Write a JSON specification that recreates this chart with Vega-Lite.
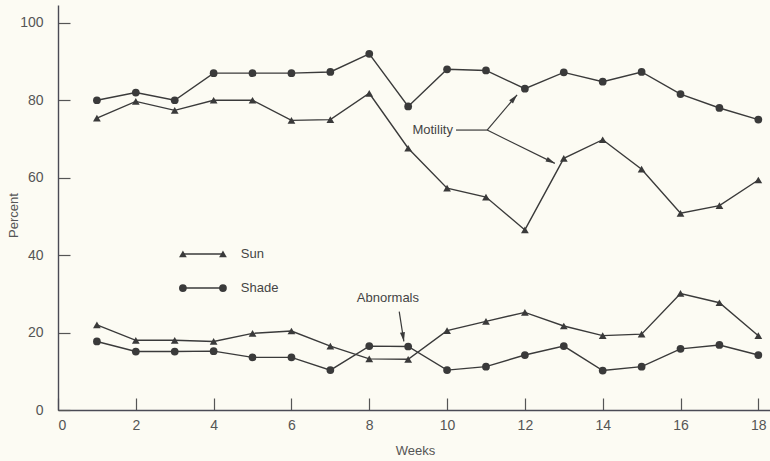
{
  "$schema": "https://vega.github.io/schema/vega-lite/v6.json",
  "width": 712,
  "height": 405,
  "autosize": {"type": "none"},
  "padding": {"left": 58, "top": 5, "right": 0, "bottom": 51},
  "background": "#fcfbf3",
  "config": {"view": {"stroke": null}, "font": "Liberation Sans"},
  "datasets": {
    "series": [
      {"week": 1, "value": 80, "series": "Shade", "measure": "Motility"},
      {"week": 2, "value": 82, "series": "Shade", "measure": "Motility"},
      {"week": 3, "value": 80, "series": "Shade", "measure": "Motility"},
      {"week": 4, "value": 87, "series": "Shade", "measure": "Motility"},
      {"week": 5, "value": 87, "series": "Shade", "measure": "Motility"},
      {"week": 6, "value": 87, "series": "Shade", "measure": "Motility"},
      {"week": 7, "value": 87.3, "series": "Shade", "measure": "Motility"},
      {"week": 8, "value": 92, "series": "Shade", "measure": "Motility"},
      {"week": 9, "value": 78.4, "series": "Shade", "measure": "Motility"},
      {"week": 10, "value": 88, "series": "Shade", "measure": "Motility"},
      {"week": 11, "value": 87.7, "series": "Shade", "measure": "Motility"},
      {"week": 12, "value": 83, "series": "Shade", "measure": "Motility"},
      {"week": 13, "value": 87.2, "series": "Shade", "measure": "Motility"},
      {"week": 14, "value": 84.8, "series": "Shade", "measure": "Motility"},
      {"week": 15, "value": 87.3, "series": "Shade", "measure": "Motility"},
      {"week": 16, "value": 81.6, "series": "Shade", "measure": "Motility"},
      {"week": 17, "value": 78, "series": "Shade", "measure": "Motility"},
      {"week": 18, "value": 75, "series": "Shade", "measure": "Motility"},
      {"week": 1, "value": 75.4, "series": "Sun", "measure": "Motility"},
      {"week": 2, "value": 79.7, "series": "Sun", "measure": "Motility"},
      {"week": 3, "value": 77.4, "series": "Sun", "measure": "Motility"},
      {"week": 4, "value": 80, "series": "Sun", "measure": "Motility"},
      {"week": 5, "value": 80, "series": "Sun", "measure": "Motility"},
      {"week": 6, "value": 74.8, "series": "Sun", "measure": "Motility"},
      {"week": 7, "value": 75, "series": "Sun", "measure": "Motility"},
      {"week": 8, "value": 81.8, "series": "Sun", "measure": "Motility"},
      {"week": 9, "value": 67.6, "series": "Sun", "measure": "Motility"},
      {"week": 10, "value": 57.3, "series": "Sun", "measure": "Motility"},
      {"week": 11, "value": 55, "series": "Sun", "measure": "Motility"},
      {"week": 12, "value": 46.5, "series": "Sun", "measure": "Motility"},
      {"week": 13, "value": 65, "series": "Sun", "measure": "Motility"},
      {"week": 14, "value": 69.8, "series": "Sun", "measure": "Motility"},
      {"week": 15, "value": 62.2, "series": "Sun", "measure": "Motility"},
      {"week": 16, "value": 50.8, "series": "Sun", "measure": "Motility"},
      {"week": 17, "value": 52.8, "series": "Sun", "measure": "Motility"},
      {"week": 18, "value": 59.4, "series": "Sun", "measure": "Motility"},
      {"week": 1, "value": 22, "series": "Sun", "measure": "Abnormals"},
      {"week": 2, "value": 18, "series": "Sun", "measure": "Abnormals"},
      {"week": 3, "value": 18, "series": "Sun", "measure": "Abnormals"},
      {"week": 4, "value": 17.7, "series": "Sun", "measure": "Abnormals"},
      {"week": 5, "value": 19.8, "series": "Sun", "measure": "Abnormals"},
      {"week": 6, "value": 20.4, "series": "Sun", "measure": "Abnormals"},
      {"week": 7, "value": 16.5, "series": "Sun", "measure": "Abnormals"},
      {"week": 8, "value": 13.2, "series": "Sun", "measure": "Abnormals"},
      {"week": 9, "value": 13.1, "series": "Sun", "measure": "Abnormals"},
      {"week": 10, "value": 20.5, "series": "Sun", "measure": "Abnormals"},
      {"week": 11, "value": 22.9, "series": "Sun", "measure": "Abnormals"},
      {"week": 12, "value": 25.2, "series": "Sun", "measure": "Abnormals"},
      {"week": 13, "value": 21.7, "series": "Sun", "measure": "Abnormals"},
      {"week": 14, "value": 19.2, "series": "Sun", "measure": "Abnormals"},
      {"week": 15, "value": 19.6, "series": "Sun", "measure": "Abnormals"},
      {"week": 16, "value": 30.1, "series": "Sun", "measure": "Abnormals"},
      {"week": 17, "value": 27.7, "series": "Sun", "measure": "Abnormals"},
      {"week": 18, "value": 19.2, "series": "Sun", "measure": "Abnormals"},
      {"week": 1, "value": 17.7, "series": "Shade", "measure": "Abnormals"},
      {"week": 2, "value": 15.1, "series": "Shade", "measure": "Abnormals"},
      {"week": 3, "value": 15.1, "series": "Shade", "measure": "Abnormals"},
      {"week": 4, "value": 15.2, "series": "Shade", "measure": "Abnormals"},
      {"week": 5, "value": 13.6, "series": "Shade", "measure": "Abnormals"},
      {"week": 6, "value": 13.6, "series": "Shade", "measure": "Abnormals"},
      {"week": 7, "value": 10.3, "series": "Shade", "measure": "Abnormals"},
      {"week": 8, "value": 16.5, "series": "Shade", "measure": "Abnormals"},
      {"week": 9, "value": 16.4, "series": "Shade", "measure": "Abnormals"},
      {"week": 10, "value": 10.3, "series": "Shade", "measure": "Abnormals"},
      {"week": 11, "value": 11.2, "series": "Shade", "measure": "Abnormals"},
      {"week": 12, "value": 14.2, "series": "Shade", "measure": "Abnormals"},
      {"week": 13, "value": 16.5, "series": "Shade", "measure": "Abnormals"},
      {"week": 14, "value": 10.2, "series": "Shade", "measure": "Abnormals"},
      {"week": 15, "value": 11.2, "series": "Shade", "measure": "Abnormals"},
      {"week": 16, "value": 15.8, "series": "Shade", "measure": "Abnormals"},
      {"week": 17, "value": 16.8, "series": "Shade", "measure": "Abnormals"},
      {"week": 18, "value": 14.2, "series": "Shade", "measure": "Abnormals"}
    ],
    "notes": [
      {"label": "Motility", "week": 10.15, "value": 72.3, "align": "right"},
      {"label": "Abnormals", "week": 8.48, "value": 28.9, "align": "center"}
    ],
    "pointers": [
      {"id": "stem", "week": 10.23, "value": 72.3, "week2": 11.03, "value2": 72.3},
      {"id": "up", "week": 11.03, "value": 72.3, "week2": 11.8, "value2": 81.4},
      {"id": "down", "week": 11.03, "value": 72.3, "week2": 12.77, "value2": 63.7},
      {"id": "abn", "week": 8.77, "value": 25.4, "week2": 8.89, "value2": 17.7}
    ],
    "legend": [
      {"series": "Sun", "value": 40.3},
      {"series": "Shade", "value": 31.5}
    ]
  },
  "layer": [
    {
      "data": {"name": "series"},
      "mark": {"type": "line", "color": "#3a3a3a", "strokeWidth": 1.4},
      "encoding": {
        "x": {
          "field": "week", "type": "quantitative", "title": "Weeks",
          "scale": {"domain": [0, 18.3], "nice": false, "zero": false},
          "axis": {
            "values": [0, 2, 4, 6, 8, 10, 12, 14, 16, 18],
            "grid": false, "tickSize": -12, "tickColor": "#555", "tickWidth": 1.2,
            "domainColor": "#4a4a55", "domainWidth": 1.4,
            "labelColor": "#555", "labelFontSize": 14, "labelPadding": 20,
            "titleColor": "#555", "titleFontSize": 13, "titleFontWeight": "normal",
            "titleX": 357, "titleY": 40, "titleBaseline": "middle", "titleAlign": "center"
          }
        },
        "y": {
          "field": "value", "type": "quantitative", "title": "Percent",
          "scale": {"domain": [0, 104.6], "nice": false},
          "axis": {
            "values": [0, 20, 40, 60, 80, 100],
            "grid": false, "tickSize": -12, "tickColor": "#555", "tickWidth": 1.2,
            "domainColor": "#4a4a55", "domainWidth": 1.4,
            "labelColor": "#555", "labelFontSize": 14, "labelPadding": 27,
            "titleColor": "#555", "titleFontSize": 13, "titleFontWeight": "normal",
            "titleAngle": -90, "titleX": -45, "titleY": 210,
            "titleBaseline": "middle", "titleAlign": "center"
          }
        },
        "detail": [{"field": "series"}, {"field": "measure"}]
      }
    },
    {
      "data": {"name": "series"},
      "mark": {"type": "point", "filled": true, "color": "#3a3a3a", "opacity": 1, "size": 60},
      "encoding": {
        "x": {"field": "week", "type": "quantitative", "title": "Weeks"},
        "y": {"field": "value", "type": "quantitative", "title": "Percent"},
        "shape": {
          "field": "series", "type": "nominal",
          "scale": {"domain": ["Sun", "Shade"], "range": ["triangle-up", "circle"]},
          "legend": null
        }
      }
    },
    {
      "data": {"name": "pointers"},
      "mark": {"type": "rule", "color": "#3a3a3a", "strokeWidth": 1.2},
      "encoding": {
        "x": {"field": "week", "type": "quantitative", "title": "Weeks"},
        "y": {"field": "value", "type": "quantitative", "title": "Percent"},
        "x2": {"field": "week2", "title": "Weeks"},
        "y2": {"field": "value2", "title": "Percent"}
      }
    },
    {
      "data": {"name": "pointers"},
      "transform": [{"filter": "datum.id === 'up'"}],
      "mark": {"type": "point", "filled": true, "opacity": 1, "color": "#3a3a3a", "size": 70, "angle": 40.6, "shape": "M0,0L0.6,2.2L-0.6,2.2Z"},
      "encoding": {
        "x": {"field": "week2", "type": "quantitative", "title": "Weeks"},
        "y": {"field": "value2", "type": "quantitative", "title": "Percent"}
      }
    },
    {
      "data": {"name": "pointers"},
      "transform": [{"filter": "datum.id === 'down'"}],
      "mark": {"type": "point", "filled": true, "opacity": 1, "color": "#3a3a3a", "size": 70, "angle": 116.6, "shape": "M0,0L0.6,2.2L-0.6,2.2Z"},
      "encoding": {
        "x": {"field": "week2", "type": "quantitative", "title": "Weeks"},
        "y": {"field": "value2", "type": "quantitative", "title": "Percent"}
      }
    },
    {
      "data": {"name": "pointers"},
      "transform": [{"filter": "datum.id === 'abn'"}],
      "mark": {"type": "point", "filled": true, "opacity": 1, "color": "#3a3a3a", "size": 70, "angle": 171, "shape": "M0,0L0.6,2.2L-0.6,2.2Z"},
      "encoding": {
        "x": {"field": "week2", "type": "quantitative", "title": "Weeks"},
        "y": {"field": "value2", "type": "quantitative", "title": "Percent"}
      }
    },
    {
      "data": {"name": "notes"},
      "transform": [{"filter": "datum.align === 'right'"}],
      "mark": {"type": "text", "align": "right", "baseline": "middle", "fontSize": 13, "color": "#444"},
      "encoding": {
        "x": {"field": "week", "type": "quantitative", "title": "Weeks"},
        "y": {"field": "value", "type": "quantitative", "title": "Percent"},
        "text": {"field": "label"}
      }
    },
    {
      "data": {"name": "notes"},
      "transform": [{"filter": "datum.align === 'center'"}],
      "mark": {"type": "text", "align": "center", "baseline": "middle", "fontSize": 13, "color": "#444"},
      "encoding": {
        "x": {"field": "week", "type": "quantitative", "title": "Weeks"},
        "y": {"field": "value", "type": "quantitative", "title": "Percent"},
        "text": {"field": "label"}
      }
    },
    {
      "data": {"name": "legend"},
      "mark": {"type": "rule", "color": "#3a3a3a", "strokeWidth": 1.4},
      "encoding": {
        "x": {"datum": 3.21, "type": "quantitative"},
        "x2": {"datum": 4.24},
        "y": {"field": "value", "type": "quantitative", "title": "Percent"}
      }
    },
    {
      "data": {"name": "legend"},
      "mark": {"type": "point", "filled": true, "color": "#3a3a3a", "opacity": 1, "size": 60},
      "encoding": {
        "x": {"datum": 3.21, "type": "quantitative"},
        "y": {"field": "value", "type": "quantitative", "title": "Percent"},
        "shape": {"field": "series", "type": "nominal", "legend": null}
      }
    },
    {
      "data": {"name": "legend"},
      "mark": {"type": "point", "filled": true, "color": "#3a3a3a", "opacity": 1, "size": 60},
      "encoding": {
        "x": {"datum": 4.24, "type": "quantitative"},
        "y": {"field": "value", "type": "quantitative", "title": "Percent"},
        "shape": {"field": "series", "type": "nominal", "legend": null}
      }
    },
    {
      "data": {"name": "legend"},
      "mark": {"type": "text", "align": "left", "baseline": "middle", "fontSize": 13, "color": "#444"},
      "encoding": {
        "x": {"datum": 4.7, "type": "quantitative"},
        "y": {"field": "value", "type": "quantitative", "title": "Percent"},
        "text": {"field": "series"}
      }
    }
  ]
}
